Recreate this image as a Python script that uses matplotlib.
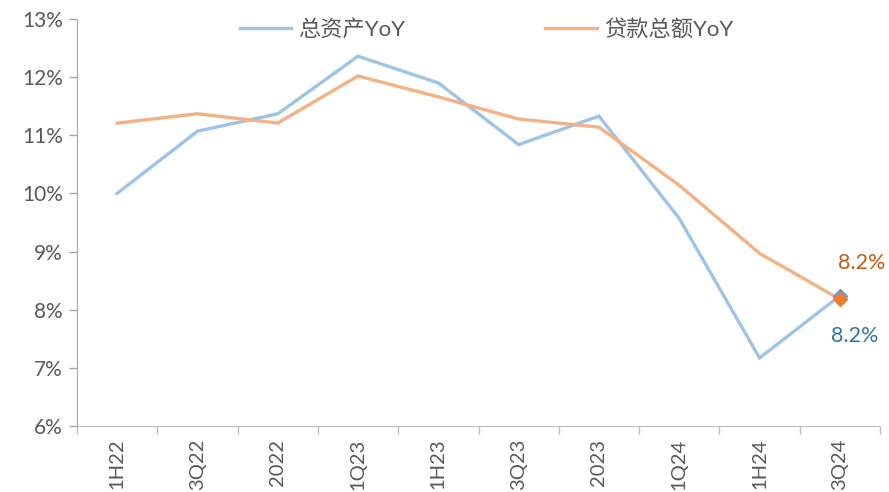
import matplotlib
matplotlib.use("Agg")
import matplotlib.pyplot as plt
import numpy as np

plt.rcParams['font.family'] = ['Lato', 'Noto Sans CJK SC', 'DejaVu Sans']

categories = ["1H22", "3Q22", "2022", "1Q23", "1H23", "3Q23", "2023", "1Q24", "1H24", "3Q24"]
assets_yoy = [10.0, 11.07, 11.37, 12.36, 11.90, 10.84, 11.33, 9.57, 7.17, 8.24]
loans_yoy = [11.21, 11.37, 11.21, 12.02, 11.66, 11.28, 11.14, 10.14, 8.97, 8.18]
series_names = ["总资产YoY", "贷款总额YoY"]
yticks = [6, 7, 8, 9, 10, 11, 12, 13]

fig = plt.figure(figsize=(8.89, 4.92), dpi=100)
ax = fig.add_axes([77/889, 66/492, 803/889, 407/492])

x = np.arange(len(categories))
blue_line = "#9DC3E6"
orange_line = "#F4B183"
ax.plot(x, assets_yoy, color=blue_line, lw=2.4, label=series_names[0], solid_joinstyle='miter')
ax.plot(x, loans_yoy, color=orange_line, lw=2.4, label=series_names[1], solid_joinstyle='miter')
ax.plot(x[-1], assets_yoy[-1], marker='D', ms=7, color="#5B9BD5", mec="#5B9BD5", zorder=4)
ax.plot(x[-1], loans_yoy[-1], marker='D', ms=7, color="#ED7D31", mec="#ED7D31", zorder=5)

ax.annotate(f"{loans_yoy[-1]:.1f}%", (x[-1], loans_yoy[-1]), xytext=(16, 26),
            textcoords='offset points', ha='center', va='center', color="#C55A11", fontsize=15.5)
ax.annotate(f"{assets_yoy[-1]:.1f}%", (x[-1], assets_yoy[-1]), xytext=(11, -29),
            textcoords='offset points', ha='center', va='center', color="#2E75B6", fontsize=15.5)

ax.set_xlim(-0.5, len(categories) - 0.5)
ax.set_ylim(6, 13)
ax.set_yticks(yticks)
ax.set_yticklabels([f"{v}%" for v in yticks])
ax.set_xticks(x)
ax.set_xticklabels(categories, rotation=90)
ax.set_xticks(np.arange(-0.5, len(categories) + 0.5, 1), minor=True)
ax.tick_params(axis='x', which='major', length=0, pad=9, labelsize=14.5, labelcolor="#595959")
ax.tick_params(axis='x', which='minor', length=6, color="#BFBFBF", width=1)
ax.tick_params(axis='y', length=6, color="#A6A6A6", width=1, labelsize=15, labelcolor="#595959", pad=4)

for s in ['top', 'right']:
    ax.spines[s].set_visible(False)
ax.spines['left'].set_color("#A6A6A6")
ax.spines['bottom'].set_color("#BFBFBF")

leg = ax.legend(loc='upper center', bbox_to_anchor=(0.51, 1.05), ncol=2, frameon=False,
                fontsize=16, handlelength=2.3, columnspacing=6.3, handletextpad=0.35)
for t in leg.get_texts():
    t.set_color("#595959")

fig.savefig("out.png", dpi=100)
